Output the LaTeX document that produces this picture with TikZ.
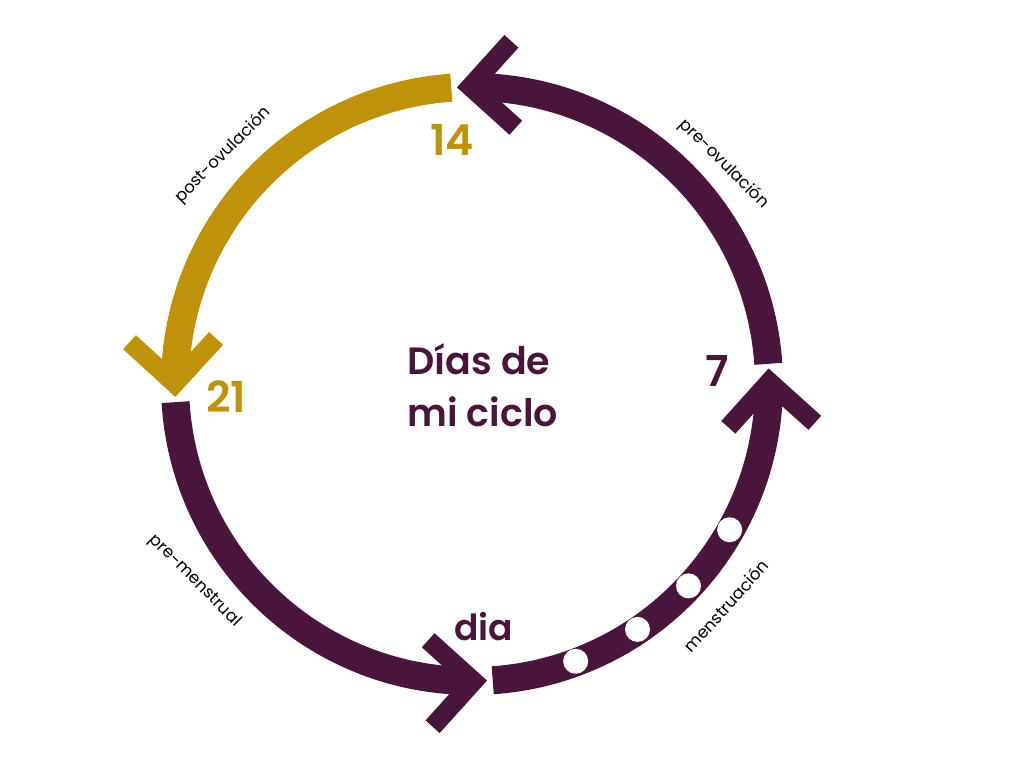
\documentclass[tikz,border=0pt]{standalone}
\usepackage{fontspec}
\setmainfont{Poppins}
\newfontfamily\popsb{Poppins SemiBold}
\newfontfamily\poprg{Poppins}
\definecolor{plum}{HTML}{4A153B}
\definecolor{gold}{HTML}{C0920A}
\begin{document}
\begin{tikzpicture}[x=0.75pt,y=0.75pt,
  band/.style={line width=21pt},
  dot/.style={fill=white},
  lbl/.style={font=\poprg\fontsize{12.5}{14}\selectfont, text=black, inner sep=0pt},
  num/.style={font=\popsb\fontsize{32}{36}\selectfont, inner sep=0pt, anchor=base},
  ttl/.style={font=\popsb\fontsize{28.5}{36}\selectfont, text=plum, inner sep=0pt, anchor=base west}]
\useasboundingbox (0,0) rectangle (1024,768);
\coordinate (C) at (472,384);
\def\chevpath{(0,0) -- (-50,50) -- (-63.4,36.6) -- (-26.9,0) -- (-63.4,-36.6) -- (-50,-50) -- cycle}
\begin{scope}[shift={(C)}]
  % yellow: post-ovulacion
  \draw[band, gold] (94:297) arc[start angle=94, end angle=177.5, radius=297];
  \fill[gold, shift={(182.5:297)}, rotate=272.5] \chevpath;
  % pre-menstrual
  \draw[band, plum] (183.5:297) arc[start angle=183.5, end angle=267.9, radius=297];
  \fill[plum, shift={(272.9:297)}, rotate=362.9] \chevpath;
  % menstruacion
  \draw[band, plum] (274:297) arc[start angle=274, end angle=358, radius=297];
  \fill[plum, shift={(3:297)}, rotate=93] \chevpath;
  % pre-ovulacion
  \draw[band, plum] (3.9:297) arc[start angle=3.9, end angle=87.9, radius=297];
  \fill[plum, shift={(92.9:297)}, rotate=182.9] \chevpath;
  % dots
  \foreach \a in {290.5,304,317,330.5} \fill[dot] (\a:296) circle[radius=12.5];
\end{scope}
\node[ttl] (t1) at (407,393) {Días de};
\node[ttl] (t2) at (407,341) {mi ciclo};
\node[num, text=gold] (n14) at (452,612) {14};
\node[num, text=gold] (n21) at (226,355) {21};
\node[num, text=plum] (n7) at (717.5,381) {7};
\node[num, text=plum, font=\popsb\fontsize{27}{30}\selectfont] (ndia) at (483.5,128) {dia};
\node[lbl, rotate=45] (lpo) at (223,613) {post-ovulación};
\node[lbl, rotate=-45] (lpr) at (724,604) {pre-ovulación};
\node[lbl, rotate=-45] (lpm) at (195,187) {pre-menstrual};
\node[lbl, rotate=48] (lme) at (726,162) {menstruación};
\end{tikzpicture}
\end{document}
